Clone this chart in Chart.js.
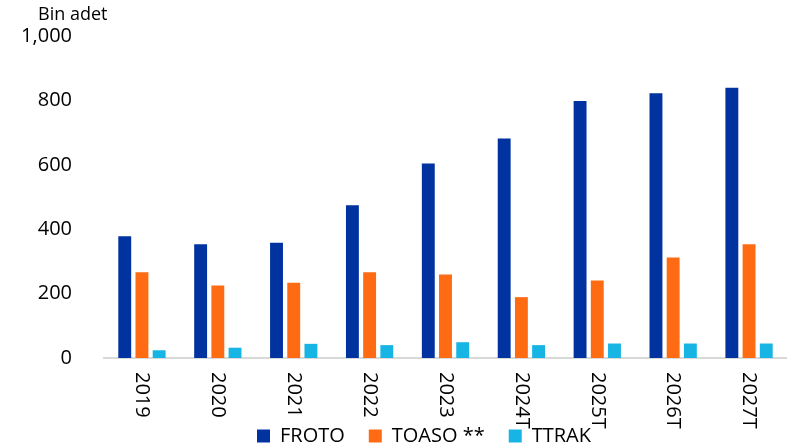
<!DOCTYPE html>
<html><head><meta charset="utf-8">
<script src="https://cdn.jsdelivr.net/npm/chart.js@4/dist/chart.umd.min.js"></script>
<style>html,body{margin:0;padding:0;background:#fff;}#wrap{width:787px;height:448px;position:relative;}</style>
</head><body><div id="wrap"><canvas id="c"></canvas></div>
<script>
const categories = ['2019','2020','2021','2022','2023','2024T','2025T','2026T','2027T'];
const froto = [378,353,358,474,604,682,798,822,839];
const toaso = [266,225,234,266,259,189,241,312,353];
const ttrak = [24,32,44,40,49,40,45,45,45];
const seriesNames = ['FROTO','TOASO **','TTRAK'];
const seriesColors = ['#0033A0','#FF6B12','#17B5E3'];
const yTicks = [0,200,400,600,800,1000];
const unitLabel = 'Bin adet';

const FONT = "'Open Sans', 'Liberation Sans', sans-serif";

const xLabelPlugin = {
  id: 'xLabels',
  beforeDraw(chart) {
    const lg = chart.legend;
    if (lg) { lg.left = 61; lg.right = 787; lg.adjustHitBoxes(); }
    const ctx = chart.ctx;
    const xs = chart.scales.x;
    ctx.save();
    ctx.fillStyle = '#000';
    ctx.font = '20px ' + FONT;
    ctx.textAlign = 'left';
    ctx.textBaseline = 'middle';
    categories.forEach((lab, i) => {
      const x = xs.getPixelForTick(i);
      ctx.save();
      ctx.translate(x, chart.chartArea.bottom + 14);
      ctx.rotate(Math.PI / 2);
      ctx.fillText(lab, 0, 0);
      ctx.restore();
    });
    ctx.font = '18px ' + FONT;
    ctx.textBaseline = 'alphabetic';
    ctx.fillText(unitLabel, 38, 20);
    ctx.restore();
  }
};

new Chart(document.getElementById('c'), {
  type: 'bar',
  data: {
    labels: categories,
    datasets: [
      {label: seriesNames[0], data: froto, backgroundColor: seriesColors[0]},
      {label: seriesNames[1], data: toaso, backgroundColor: seriesColors[1]},
      {label: seriesNames[2], data: ttrak, backgroundColor: seriesColors[2]}
    ]
  },
  options: {
    responsive: true,
    maintainAspectRatio: false,
    animation: false,
    datasets: {bar: {categoryPercentage: 0.68, barPercentage: 0.75}},
    layout: {padding: {top: 35, left: 10, right: 0, bottom: -8}},
    plugins: {
      tooltip: {enabled: false},
      title: {display: false},
      legend: {
        position: 'bottom',
        labels: {boxWidth: 13, boxHeight: 13, padding: 24, color: '#000', font: {family: FONT, size: 20}}
      }
    },
    scales: {
      x: {
        grid: {display: false},
        border: {color: '#d9d9d9', width: 2},
        ticks: {display: false},
        afterFit(s) { s.height = 44; }
      },
      y: {
        min: 0, max: 1000,
        afterBuildTicks(s) { s.ticks = yTicks.map(v => ({value: v})); },
        grid: {display: false},
        border: {display: false},
        ticks: {color: '#000', padding: 24, font: {family: FONT, size: 20},
          callback: v => v.toLocaleString('en-US')},
        afterFit(s) { s.width = 94; }
      }
    }
  },
  plugins: [xLabelPlugin]
});
</script></body></html>
